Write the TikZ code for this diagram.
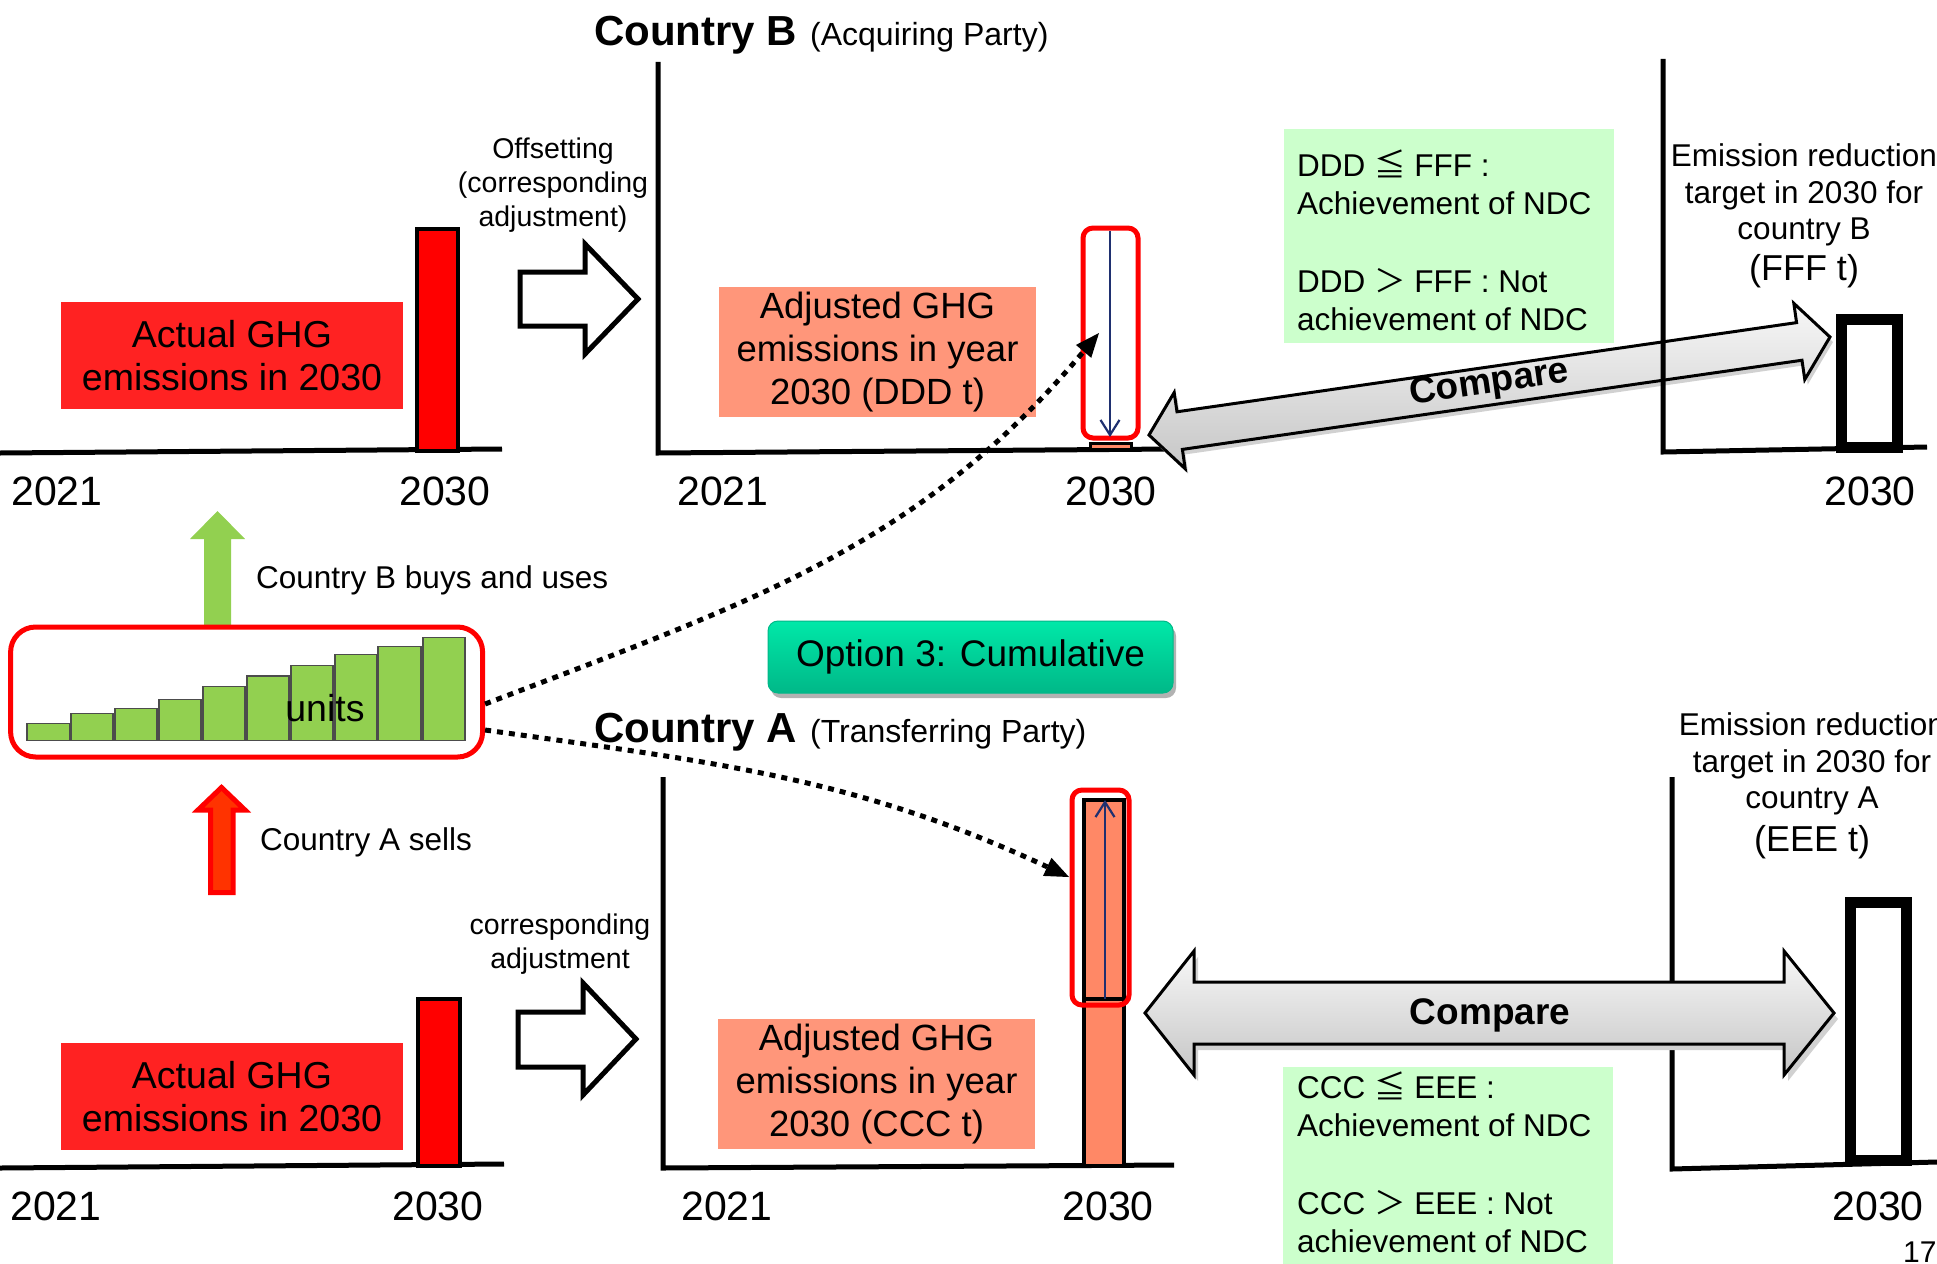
\documentclass[tikz,border=0pt]{standalone}
\usepackage{fontspec}
\setmainfont{Liberation Sans}
\newfontfamily\cjkfont{Noto Sans CJK JP}
\usetikzlibrary{arrows.meta,shadows}
\definecolor{redlab}{HTML}{FF2222}
\definecolor{barred}{HTML}{FF0000}
\definecolor{salmonlab}{HTML}{FF967A}
\definecolor{salmonbar}{HTML}{FF8866}
\definecolor{notegreen}{HTML}{CCFFCC}
\definecolor{unitgreen}{HTML}{92D050}
\definecolor{navyline}{HTML}{1F3070}
\definecolor{optA}{HTML}{00E8A8}
\definecolor{optB}{HTML}{00B888}
\definecolor{arrowred}{HTML}{FF3300}
\newcommand{\fsz}[2]{\fontsize{#1}{#2}\selectfont}
\begin{document}
\begin{tikzpicture}[x=1pt,y=-1pt,
  axisline/.style={line width=5pt},
  yearlbl/.style={font=\fsz{41}{48}, anchor=base, inner sep=0pt},
  redlabel/.style={fill=redlab, inner sep=0pt, align=center, font=\fsz{37.5}{43}, minimum width=342pt, minimum height=107pt},
  salmonlabel/.style={fill=salmonlab, inner sep=0pt, align=center, font=\fsz{36.5}{43}, minimum width=317pt, minimum height=130pt},
  redbar/.style={fill=barred, draw=black, line width=4pt},
  hollowarrow/.style={draw=black, fill=white, line width=5pt},
  smalltxt/.style={font=\fsz{28.5}{34}, align=center, inner sep=0pt},
  midtxt/.style={font=\fsz{31.5}{37}, inner sep=0pt, anchor=base west},
  notebox/.style={fill=notegreen, inner sep=0pt, minimum width=330pt},
  notetxt/.style={font=\fsz{31.5}{38}, align=left, inner sep=0pt, anchor=west},
  targettxt/.style={font=\fsz{31.5}{36.5}, align=center, inner sep=0pt},
  targetbig/.style={font=\fsz{36}{42}, inner sep=0pt, anchor=base},
  targetbar/.style={draw=black, fill=white, line width=11pt},
  redframe/.style={draw=red, line width=5pt, rounded corners=10pt},
  navyarrow/.style={draw=navyline, line width=2.2pt, -{Straight Barb[length=15pt,width=19pt]}},
  dotarrow/.style={line width=5pt, dash pattern=on 6pt off 6pt, -{Triangle[length=24pt,width=20pt,line width=0pt]}},
  comparearrow/.style={draw=black, line width=3pt, top color=gray!6, bottom color=gray!45, line join=miter},
  cmpshadow/.style={fill=black!18},
  comparetxt/.style={font=\bfseries\fsz{37}{44}, inner sep=0pt},
  titletxt/.style={anchor=base west, inner sep=0pt},
]
\useasboundingbox (0,0) rectangle (1937,1263);
\fill[white] (0,0) rectangle (1937,1263);

% ---------- axes ----------
\draw[axisline] (0,453) -- (502,449);
\draw[axisline] (658,62) -- (658,453) -- (1173,449);
\draw[axisline] (0,1168) -- (504,1164);
\draw[axisline] (663,777) -- (663,1168) -- (1174,1165);
\draw[axisline] (1672,777) -- (1672,1169) -- (1937,1162);

% ---------- titles ----------
\node[titletxt] (titleB) at (594,46) {{\bfseries\fsz{42}{50}Country B}\hspace{13pt}{\fsz{32}{38}(Acquiring Party)}};
\node[titletxt] (titleA) at (594,742) {{\bfseries\fsz{42}{50}Country A}\hspace{13pt}{\fsz{32}{38}(Transferring Party)}};

% ---------- top-left panel ----------
\node[redlabel] (actTop) at (232,355.5) {Actual GHG\\emissions in 2030};
\draw[redbar] (417,229) rectangle (458,451);
\node[yearlbl] (yTL1) at (57,505) {2021};
\node[yearlbl] (yTL2) at (445,505) {2030};
\draw[hollowarrow] (520,272) -- (585,272) -- (585,244) -- (638,299) -- (585,354) -- (585,326) -- (520,326) -- cycle;
\node[smalltxt] (offset) at (553,185) {Offsetting\\(corresponding\\adjustment)};

% ---------- top-middle panel ----------
\node[salmonlabel] (adjTop) at (877.5,352) {Adjusted GHG\\emissions in year\\2030 (DDD t)};
\draw[fill=salmonbar, line width=3pt] (1090,443) rectangle (1131,449);
\draw[redframe] (1083,228) rectangle (1138,438);
\coordinate (navyTopS) at (1110,231);
\coordinate (navyTopE) at (1110,437);
\draw[navyarrow] (navyTopS) -- (navyTopE);
\node[yearlbl] (yTM1) at (723,505) {2021};
\node[yearlbl] (yTM2) at (1111,505) {2030};

% ---------- bottom-left panel ----------
\node[redlabel] (actBot) at (232,1096.5) {Actual GHG\\emissions in 2030};
\draw[redbar] (418,999) rectangle (460,1166);
\node[yearlbl] (yBL1) at (56,1220) {2021};
\node[yearlbl] (yBL2) at (438,1220) {2030};
\draw[hollowarrow] (518,1012) -- (583,1012) -- (583,983) -- (636,1039) -- (583,1095) -- (583,1067) -- (518,1067) -- cycle;
\node[smalltxt] (corradj) at (560,944) {corresponding\\adjustment};

% ---------- bottom-middle panel ----------
\node[salmonlabel] (adjBot) at (876.5,1084) {Adjusted GHG\\emissions in year\\2030 (CCC t)};
\draw[fill=salmonbar, line width=4pt] (1084,800) rectangle (1124,1166);
\draw[line width=4pt] (1084,800) rectangle (1124,999);
\draw[redframe] (1072,790) rectangle (1129,1005);
\coordinate (navyBotS) at (1105,999);
\coordinate (navyBotE) at (1105,800);
\draw[navyarrow] (navyBotS) -- (navyBotE);
\node[yearlbl] (yBM1) at (727,1220) {2021};
\node[yearlbl] (yBM2) at (1108,1220) {2030};

% ---------- units box and arrows ----------
\fill[unitgreen] (204,627) -- (204,539) -- (190,539) -- (217.5,511) -- (245,539) -- (231,539) -- (231,627) -- cycle;
\node[midtxt] (buys) at (256,588) {Country B buys and uses};
\foreach \xa/\xb/\yt in {27/70/723.3, 71/113/713.3, 115/157/708.3, 159/201/699.3, 203/245/686.7, 247/289/676, 291/333/665.7, 335/377/654.7, 378/421/646.3, 423/465/637.7}
  \draw[fill=unitgreen, draw=black!70, line width=1.5pt] (\xa,\yt) rectangle (\xb,740.7);
\node[font=\fsz{37.5}{44}, anchor=base, inner sep=0pt] (unitstxt) at (325,721) {units};
\node[draw=red, line width=5pt, rounded corners=25pt, minimum width=472pt, minimum height=130pt, inner sep=0pt] (units) at (246.6,692) {};
\draw[fill=arrowred, draw=red, line width=5pt] (210.5,892.5) -- (210.5,810) -- (198,810) -- (221.5,787.5) -- (245,810) -- (233,810) -- (233,892.5) -- cycle;
\node[midtxt] (sells) at (260,850) {Country A sells};

% ---------- option box ----------
\node[rounded corners=10pt, top color=optA, bottom color=optB, draw=optB, line width=1pt,
      minimum width=405pt, minimum height=72pt, inner sep=0pt, font=\fsz{37}{44},
      drop shadow={shadow xshift=3pt, shadow yshift=-5pt, opacity=0.3, fill=black}] (opt) at (970.5,657) {Option 3: Cumulative};

% ---------- dotted connectors ----------
\coordinate (dddTip) at (1099,333);
\coordinate (cccTip) at (1069,877);
\draw[dotarrow] ([yshift=-12pt]units.east) to[out=21, in=-130] (dddTip);
\draw[dotarrow] ([yshift=-38pt]units.east) to[out=-8, in=155] (cccTip);

% ---------- compare arrows ----------
\begin{scope}[shift={(1152,440)}, rotate=8.19]
  \fill[cmpshadow] (0,0) -- (31,-38.5) -- (31,-19) -- (657,-19) -- (657,-38.5) -- (688,0) -- (657,38.5) -- (657,19) -- (31,19) -- (31,38.5) -- cycle;
\end{scope}
\begin{scope}[shift={(1149,435)}, rotate=8.19]
  \path[comparearrow] (0,0) -- (31,-38.5) -- (31,-19) -- (657,-19) -- (657,-38.5) -- (688,0) -- (657,38.5) -- (657,19) -- (31,19) -- (31,38.5) -- cycle;
\end{scope}
\node[comparetxt, rotate=8.19] (cmpTop) at (1489.5,384) {Compare};

\fill[cmpshadow] (1149,1019) -- (1198,957) -- (1198,988) -- (1788,988) -- (1788,957) -- (1838,1019) -- (1788,1081) -- (1788,1050) -- (1198,1050) -- (1198,1081) -- cycle;
\path[comparearrow] (1145,1013) -- (1194,951) -- (1194,982) -- (1784,982) -- (1784,951) -- (1834,1013) -- (1784,1075) -- (1784,1044) -- (1194,1044) -- (1194,1075) -- cycle;
\node[comparetxt] (cmpBot) at (1490,1015) {Compare};

% ---------- top-right panel ----------
\draw[axisline] (1663,59) -- (1663,452) -- (1927,447);
\draw[targetbar] (1841.5,319) rectangle (1897.5,447);
\node[targettxt] (tgtB) at (1804,195.3) {Emission reduction\\target in 2030 for\\country B};
\node[targetbig] (tgtBv) at (1804,280) {(FFF t)};
\node[yearlbl] (yTR) at (1870,505) {2030};

% ---------- bottom-right panel ----------
\draw[targetbar] (1850.5,902.5) rectangle (1906.5,1160);
\node[targettxt] (tgtA) at (1812,764.3) {Emission reduction\\target in 2030 for\\country A};
\node[targetbig] (tgtAv) at (1812,851) {(EEE t)};
\node[yearlbl] (yBR) at (1878,1220) {2030};

% ---------- notes ----------
\node[notebox, minimum height=214pt] (noteTop) at (1449,236) {};
\node[notetxt] (noteTopTxt) at (1297,240.5) {DDD {\cjkfont ≦} FFF :\\Achievement of NDC\\[40pt]DDD {\cjkfont ＞} FFF : Not\\achievement of NDC};
\node[notebox, minimum height=210pt] (noteBot) at (1448,1172) {};
\node[notetxt] (noteBotTxt) at (1297,1162.5) {CCC {\cjkfont ≦} EEE :\\Achievement of NDC\\[40pt]CCC {\cjkfont ＞} EEE : Not\\achievement of NDC};

% ---------- page number ----------
\node[font=\fsz{30}{36}, anchor=north west, inner sep=0pt] (pageno) at (1903,1242) {17};
\end{tikzpicture}
\end{document}
